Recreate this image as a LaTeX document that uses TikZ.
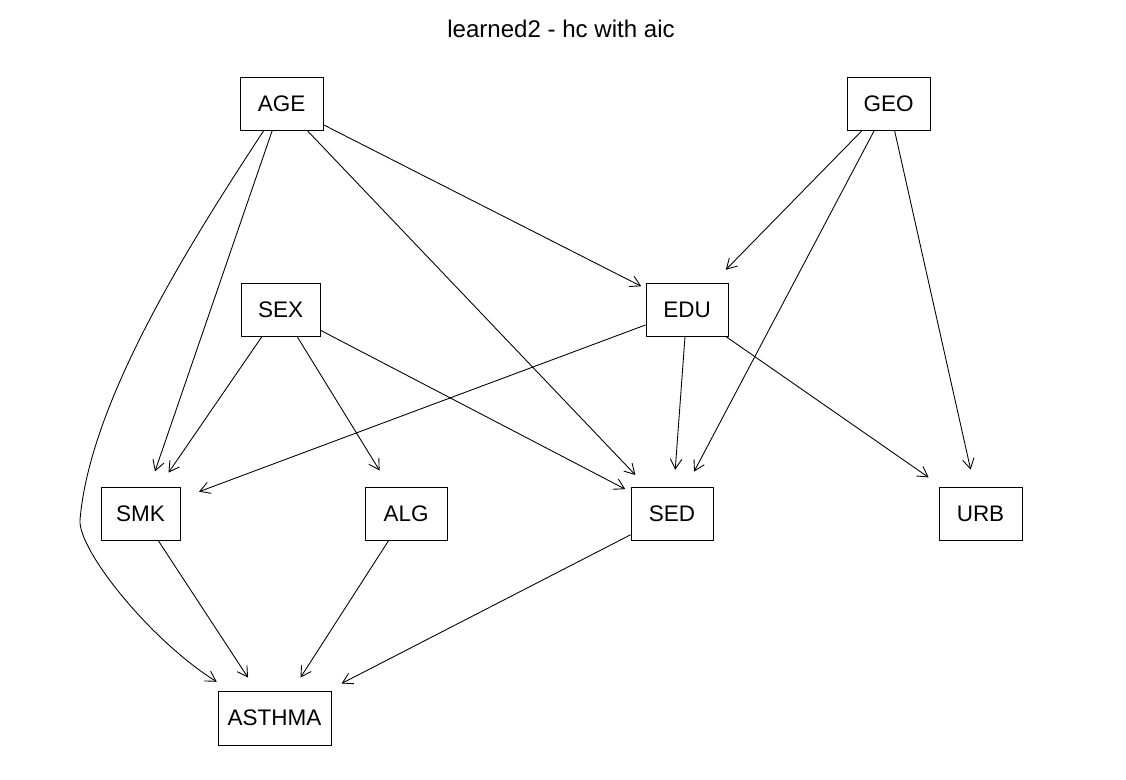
\documentclass[tikz,border=0pt]{standalone}
\usepackage{fontspec}
\setmainfont{Liberation Sans}
\usetikzlibrary{arrows.meta}
\begin{document}
\begin{tikzpicture}[x=0.02cm,y=-0.02cm,
  box/.style={draw, line width=0.5pt, inner sep=0pt, minimum height=1.06cm,
    font=\fontsize{12.8}{15}\selectfont},
  arr/.style={line width=0.5pt, -{Straight Barb[length=5.7pt,width=6.6pt,line width=0.5pt]}}]
\useasboundingbox (0,0) rectangle (1126,780);
\node[font=\fontsize{13.7}{16}\selectfont] (title) at (561,29) {learned2 - hc with aic};
\node[box, minimum width=1.66cm] (AGE) at (281.5,103.5) {AGE};
\node[box, minimum width=1.66cm] (GEO) at (888.5,103.5) {GEO};
\node[box, minimum width=1.58cm] (SEX) at (280.5,309.5) {SEX};
\node[box, minimum width=1.64cm] (EDU) at (687,309.5) {EDU};
\node[box, minimum width=1.58cm] (SMK) at (140.5,513.5) {SMK};
\node[box, minimum width=1.64cm] (ALG) at (406,513.5) {ALG};
\node[box, minimum width=1.64cm] (SED) at (672,513.5) {SED};
\node[box, minimum width=1.66cm] (URB) at (980.5,513.5) {URB};
\node[box, minimum width=2.26cm, minimum height=1.08cm] (ASTHMA) at (274.5,718) {ASTHMA};
\draw[arr, shorten >=2.8pt] (AGE) -- (EDU);
\draw[arr, shorten >=9.1pt] (AGE) -- (SMK);
\draw[arr, shorten >=9.1pt] (AGE) -- (SED);
\draw[arr, shorten >=9.4pt] (AGE) .. controls (192,240) and (90,400) .. (80,520)
   .. controls (78,550) and (150,640) .. (ASTHMA);
\draw[arr, shorten >=9.6pt] (SEX) -- (SMK);
\draw[arr, shorten >=10.7pt] (SEX) -- (ALG);
\draw[arr, shorten >=3.4pt] (SEX) -- (SED);
\draw[arr, shorten >=10.2pt] (GEO) -- (EDU);
\draw[arr, shorten >=9.6pt] (GEO) -- (SED);
\draw[arr, shorten >=9.9pt] (GEO) -- (URB);
\draw[arr, shorten >=11.3pt] (EDU) -- (SMK);
\draw[arr, shorten >=9.6pt] (EDU) -- (SED);
\draw[arr, shorten >=9.1pt] (EDU) -- (URB);
\draw[arr, shorten >=8.8pt] (SMK) -- (ASTHMA);
\draw[arr, shorten >=8.8pt] (ALG) -- (ASTHMA);
\draw[arr, shorten >=8.8pt] (SED) -- (ASTHMA);
\end{tikzpicture}
\end{document}
